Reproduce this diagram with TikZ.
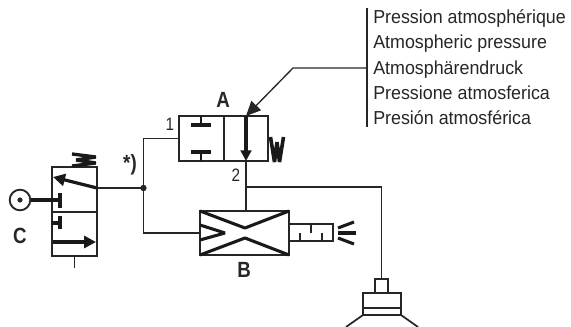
\documentclass[tikz,border=0pt]{standalone}
\usepackage{fontspec}
\setmainfont{Liberation Sans}
\newfontfamily\narrowfont[FakeStretch=0.95]{Liberation Sans}
\newfontfamily\slimfont[FakeStretch=0.85]{Liberation Sans}
\usetikzlibrary{arrows.meta}
\tikzset{
  pipe/.style={line width=1pt,draw=black!85},
  body/.style={draw=black!85,line width=1.5pt,inner sep=0pt,outer sep=0pt},
  heavy/.style={line width=2.3pt,draw=black!90,line join=bevel},
  power/.style={heavy,-{Triangle[length=7pt,width=7pt]}},
  spring/.style={line width=2.7pt,draw=black!90,line join=bevel},
  letter/.style={font=\slimfont\bfseries\fontsize{16.5}{18}\selectfont,text=black!85,inner sep=0pt},
  port/.style={font=\slimfont\fontsize{13.5}{15}\selectfont,text=black!85,inner sep=0pt},
}
\begin{document}
\begin{tikzpicture}[x=0.75pt,y=-0.75pt]
  \useasboundingbox (0,0) rectangle (571,327);
  % valves and filter
  \node[body,minimum width=66.75pt,minimum height=33.75pt] (A) at (223.5,138.5) {};
  \node[body,minimum width=33.75pt,minimum height=66.75pt] (C) at (74.5,211.5) {};
  \node[body,minimum width=66.75pt,minimum height=33pt] (B) at (244.5,233) {};
  \node[body,minimum width=33pt,minimum height=12.75pt] (G) at (311,232.5) {};
  \node[body,minimum width=9.75pt,minimum height=10.5pt] (S) at (381.5,286) {};
  \node[body,minimum width=28.5pt,minimum height=16.5pt] (U) at (382,304) {};
  \node[draw=black!85,line width=1.4pt,circle,minimum size=15.5pt,inner sep=0pt] (K) at (20,200) {};
  \fill[black!85] (K.center) circle (2.6);
  % labels
  \node[letter] (a) at (223,100) {A};
  \node[letter] (b) at (244,270) {B};
  \node[letter] (c) at (20,236) {C};
  \node[letter] (star) at (130,165) {*)};
  \node[port] (p1) at (170,124) {1};
  \node[port] (p2) at (236,175) {2};
  \node[anchor=north west,align=left,inner sep=0pt,font=\narrowfont\fontsize{14.1}{19}\selectfont,text=black!85] (T) at (373,9.5) {Pression atmosphérique\\Atmospheric pressure\\Atmosphärendruck\\Pressione atmosferica\\Presión atmosférica};
  % connections
  \coordinate (J) at (143.5,188);
  \coordinate (R) at (246,187);
  \coordinate (L1) at (367,8);
  \coordinate (L2) at (367,127);
  \coordinate (L3) at (367,68);
  \coordinate (L4) at (293,68);
  \coordinate (Ai) at (246,116);
  \coordinate (Ao) at (246,161);
  \draw[pipe] (A.west) -- (J |- A.west) -- (J) -- (J |- B.west) -- (B.west);
  \draw[pipe] (C.east |- J) -- (J);
  \fill[black!85] (J) circle (3.2);
  \draw[pipe] (Ao) -- (R) -- (R |- B.north);
  \draw[pipe] (R) -- (381.5,187) -- (S.north);
  \draw[pipe] (C.south) -- (74.5,268);
  \draw[pipe] (L1) -- (L2);
  \draw[pipe,-{Triangle[length=11pt,width=10pt]}] (L3) -- (L4) -- (Ai);
  % valve A
  \draw[body] (A.north) -- (A.south);
  \draw[heavy] (191,125) -- (211,125);
  \draw[heavy] (191,152) -- (211,152);
  \draw[heavy,line width=1.4pt] (201,116) -- (201,125);
  \draw[heavy,line width=1.4pt] (201,152) -- (201,161);
  \draw[power,line width=2.5pt,-{Triangle[length=8pt,width=8pt]}] (Ai) -- (Ao);
  \draw[spring] (270.5,137) -- (274.5,162) -- (277,142) -- (279.5,162) -- (283.5,137);
  % valve C
  \draw[body] (C.west |- 0,212) -- (C.east |- 0,212);
  \draw[power,line width=2.4pt,-{Triangle[length=9pt,width=9pt]}] (C.east |- J) -- (53,177);
  \draw[heavy] (K.east) -- (60,200);
  \draw[heavy] (60,193) -- (60,208);
  \draw[heavy] (60,216) -- (60,229);
  \draw[heavy] (52,223) -- (60,223);
  \draw[power,line width=2.4pt,-{Triangle[length=9pt,width=9pt]}] (53,242) -- (96,242);
  \draw[spring,line width=2.5pt] (72,154) -- (96,157) -- (76,160) -- (96,163) -- (72,166);
  % filter B
  \draw[heavy] (B.north west) -- (245,228) -- (B.north east);
  \draw[heavy] (B.south west) -- (245,238) -- (B.south east);
  \draw[heavy] (200,225) -- (225,233) -- (200,240);
  \draw[pipe] (300,233) -- (300,241);
  \draw[pipe] (311,224) -- (311,233);
  \draw[pipe] (322,233) -- (322,241);
  \draw[heavy] (338,233) -- (356,233);
  \draw[heavy] (338,228) -- (354,222);
  \draw[heavy] (338,238) -- (354,244);
  % suction cup
  \draw[body,line width=1.3pt] (363,308) -- (401,308);
  \draw[body,line width=1.3pt] (U.south west) -- (346,327);
  \draw[body,line width=1.3pt] (U.south east) -- (418,327);
\end{tikzpicture}
\end{document}
